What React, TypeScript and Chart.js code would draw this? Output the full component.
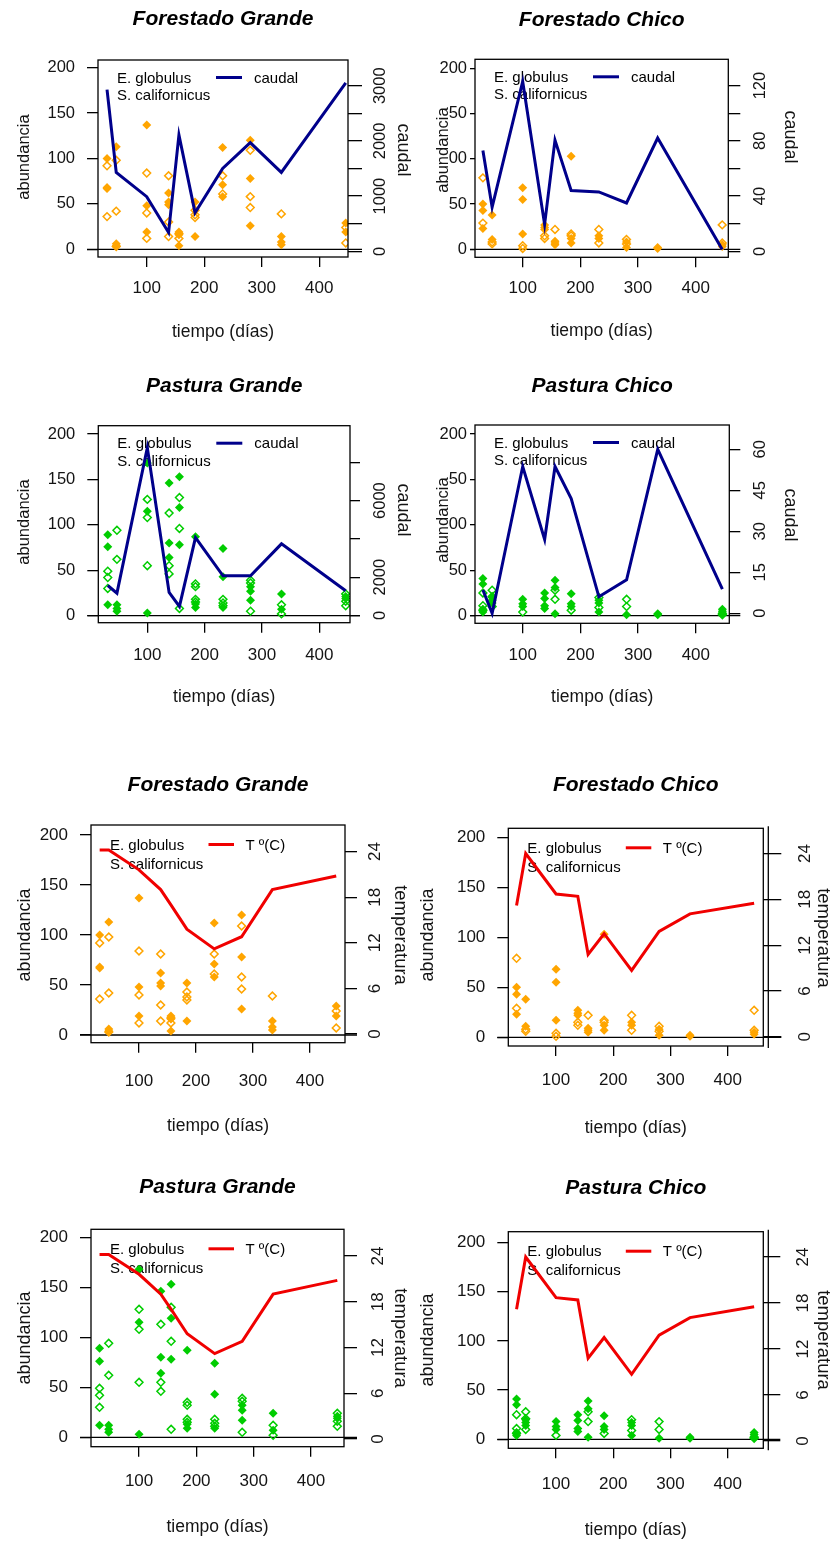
import React, { useEffect, useRef } from 'react';
import { Chart, registerables } from 'chart.js';

Chart.register(...registerables);

// ---------------- data ----------------
const dias = [31, 47, 100, 138, 156, 184, 232, 280, 334, 446];

const caudalForestadoGrande = [2930, 1430, 990, 340, 2110, 700, 1500, 1970, 1430, 3050];
const caudalForestadoChico = [73, 32, 123, 19.5, 80.5, 44, 43, 35, 82, 1.4];
const caudalPasturaGrande = [1565, 1165, 8765, 1200, 470, 4070, 2070, 2070, 3740, 1290];
const caudalPasturaChico = [8.5, 0, 53.7, 27, 53.7, 42, 6, 12.2, 60, 8.8];
const temperaturaGrande = [24.2, 24.2, 21.6, 19.0, 17.0, 13.8, 11.2, 12.8, 19.0, 20.8];
const temperaturaChico = [17.2, 24.0, 18.7, 18.4, 10.8, 13.5, 8.7, 13.8, 16.1, 17.5];

// abundance per sampling date (several replicates per date)
const eGlobulusForestadoGrande = [[100, 67, 68], [113, 6, 4], [137, 48, 19], [62, 52, 49], [19, 16, 4], [52, 14], [112, 71, 58], [120, 78, 26], [14, 8, 5], [29, 19]];
const sCalifornicusForestadoGrande = [[92, 36], [98, 42, 3], [84, 40, 12], [81, 30, 14], [17, 12], [43, 38, 35], [81, 61], [109, 58, 46], [39], [24, 7]];

const eGlobulusForestadoChico = [[50, 43, 23], [38, 11], [68, 55, 17], [27, 24, 22], [9, 7, 5], [103, 12, 7], [15, 12], [8, 2], [2, 1], [5, 3]];
const sCalifornicusForestadoChico = [[79, 29], [6, 8], [4, 1], [15, 12], [22], [17, 15], [22, 7], [11, 6], [], [27, 7]];

const eGlobulusPasturaGrande = [[89, 76, 12], [12, 8, 5], [168, 115, 3], [146, 80, 64], [153, 119, 78], [87, 13, 9], [74, 43, 9], [32, 27, 17], [24, 7], [21, 19]];
const sCalifornicusPasturaGrande = [[49, 42, 30], [94, 62], [128, 108, 55], [113, 55, 46], [130, 96, 8], [35, 32, 18, 15], [18, 14, 11], [39, 36, 5], [12, 2], [24, 16, 11]];

const eGlobulusPasturaChico = [[41, 35, 7, 4], [20, 17, 14], [18, 13, 10], [25, 19, 11, 8], [39, 31, 2], [24, 13, 10], [17, 14, 4], [1], [2, 1], [7, 5, 3]];
const sCalifornicusPasturaChico = [[25, 11, 6], [28, 21, 10], [4], [], [28, 18], [6], [20, 9], [18, 10], [], [2, 1]];

// tick values / labels
const xTicks = [100, 200, 300, 400];
const abundTicks = [0, 50, 100, 150, 200];
const caudalFGTicks = [0, 500, 1000, 1500, 2000, 2500, 3000];
const caudalFGLabels = [0, 1000, 2000, 3000];
const caudalFCTicks = [0, 20, 40, 60, 80, 100, 120];
const caudalFCLabels = [0, 40, 80, 120];
const caudalPGTicks = [0, 2000, 4000, 6000, 8000];
const caudalPGLabels = [0, 2000, 6000];
const caudalPCTicks = [0, 15, 30, 45, 60];
const caudalPCLabels = [0, 15, 30, 45, 60];
const tempTicks = [0, 6, 12, 18, 24];
const tempLabels = [0, 6, 12, 18, 24];

// ---------------- styles ----------------
const FONT = '"Liberation Sans", Arial, Helvetica, sans-serif';
const ORANGE = '#FFA500';
const GREEN = '#00CD00';
const NAVY = '#00008B';
const RED = '#F00000';
const INK = '#141414';

const legCaudal = { tx: 19, y1: 18.5, y2: 36, l1: 118, l2: 144, ly: 17.5, lx: 156 };
const legTemp = { tx: 19, y1: 20.5, y2: 39.5, l1: 117.5, l2: 143, ly: 19.5, lx: 154.5 };

type Lay = {
  x: number; y: number; w: number; h: number;
  box: number[];
  titleY: number; xLabY: number; xTitleY: number;
  yTitleX: number; yTitleY: number; rTitleX: number; rTitleY: number; rLabX: number;
  xr: number[]; yl: number[]; yr: number[];
  lTick: number; lPad: number; rTick: number; rOff: number;
  labSize: number; yTitleSize: number; rTitleSize: number;
  cover?: number[];
};

type Spec = {
  title: string;
  globulus: number[][];
  californicus: number[][];
  color: string;
  env: number[];
  envColor: string;
  envLabel: string;
  rTitle: string;
  rTicks: number[];
  rLabels: number[];
  leg: typeof legCaudal;
  lay: Lay;
};

const panels: Spec[] = [
  {
    title: 'Forestado Grande', globulus: eGlobulusForestadoGrande, californicus: sCalifornicusForestadoGrande,
    color: ORANGE, env: caudalForestadoGrande, envColor: NAVY, envLabel: 'caudal', rTitle: 'caudal',
    rTicks: caudalFGTicks, rLabels: caudalFGLabels, leg: legCaudal,
    lay: { x: 0, y: 0, w: 415, h: 355, box: [98, 60, 348, 257], titleY: 19.5, xLabY: 288, xTitleY: 332,
      yTitleX: 24, yTitleY: 157, rTitleX: 403, rTitleY: 150, rLabX: 380,
      xr: [15.3, 449.9], yl: [-8.5, 208.5], yr: [-103, 3466], lTick: 11, lPad: 12, rTick: 14, rOff: 0,
      labSize: 16.5, yTitleSize: 16.5, rTitleSize: 18 },
  },
  {
    title: 'Forestado Chico', globulus: eGlobulusForestadoChico, californicus: sCalifornicusForestadoChico,
    color: ORANGE, env: caudalForestadoChico, envColor: NAVY, envLabel: 'caudal', rTitle: 'caudal',
    rTicks: caudalFCTicks, rLabels: caudalFCLabels, leg: legCaudal,
    lay: { x: 415, y: 0, w: 416, h: 355, box: [475, 59.3, 728.3, 257.3], titleY: 20, xLabY: 288, xTitleY: 331,
      yTitleX: 443, yTitleY: 150, rTitleX: 790, rTitleY: 137, rLabX: 760,
      xr: [17.3, 456.5], yl: [-8.8, 210], yr: [-4.3, 139], lTick: 5, lPad: 3, rTick: 12, rOff: 0,
      labSize: 16.5, yTitleSize: 16.5, rTitleSize: 18, cover: [435, 100, 14, 100] },
  },
  {
    title: 'Pastura Grande', globulus: eGlobulusPasturaGrande, californicus: sCalifornicusPasturaGrande,
    color: GREEN, env: caudalPasturaGrande, envColor: NAVY, envLabel: 'caudal', rTitle: 'caudal',
    rTicks: caudalPGTicks, rLabels: caudalPGLabels, leg: legCaudal,
    lay: { x: 0, y: 355, w: 415, h: 385, box: [98.3, 425.7, 350, 622.7], titleY: 386, xLabY: 655, xTitleY: 697,
      yTitleX: 24, yTitleY: 522, rTitleX: 403, rTitleY: 510, rLabX: 380,
      xr: [14.5, 453.5], yl: [-7.7, 209.1], yr: [-380, 9914], lTick: 11, lPad: 12, rTick: 10, rOff: 0,
      labSize: 16.5, yTitleSize: 16.5, rTitleSize: 18 },
  },
  {
    title: 'Pastura Chico', globulus: eGlobulusPasturaChico, californicus: sCalifornicusPasturaChico,
    color: GREEN, env: caudalPasturaChico, envColor: NAVY, envLabel: 'caudal', rTitle: 'caudal',
    rTicks: caudalPCTicks, rLabels: caudalPCLabels, leg: legCaudal,
    lay: { x: 415, y: 355, w: 416, h: 385, box: [475, 425, 729.3, 623.3], titleY: 386, xLabY: 655, xTitleY: 697,
      yTitleX: 443, yTitleY: 520, rTitleX: 790, rTitleY: 515, rLabX: 760,
      xr: [17.3, 458], yl: [-8.4, 209.9], yr: [-3.7, 68.9], lTick: 5, lPad: 3, rTick: 11, rOff: 0,
      labSize: 16.5, yTitleSize: 16.5, rTitleSize: 18, cover: [435, 470, 14, 100] },
  },
  {
    title: 'Forestado Grande', globulus: eGlobulusForestadoGrande, californicus: sCalifornicusForestadoGrande,
    color: ORANGE, env: temperaturaGrande, envColor: RED, envLabel: 'T º(C)', rTitle: 'temperatura',
    rTicks: tempTicks, rLabels: tempLabels, leg: legTemp,
    lay: { x: 0, y: 740, w: 415, h: 405, box: [91, 825, 345, 1042.7], titleY: 785, xLabY: 1081, xTitleY: 1126,
      yTitleX: 25, yTitleY: 935, rTitleX: 400, rTitleY: 935, rLabX: 375,
      xr: [15.8, 461.4], yl: [-7.7, 210], yr: [-1.14, 27.5], lTick: 11, lPad: 12, rTick: 12, rOff: 0,
      labSize: 17, yTitleSize: 18, rTitleSize: 18.5 },
  },
  {
    title: 'Forestado Chico', globulus: eGlobulusForestadoChico, californicus: sCalifornicusForestadoChico,
    color: ORANGE, env: temperaturaChico, envColor: RED, envLabel: 'T º(C)', rTitle: 'temperatura',
    rTicks: tempTicks, rLabels: tempLabels, leg: legTemp,
    lay: { x: 415, y: 740, w: 416, h: 405, box: [508.3, 828.3, 763.3, 1046], titleY: 785, xLabY: 1080, xTitleY: 1128,
      yTitleX: 428.3, yTitleY: 935, rTitleX: 823, rTitleY: 938, rLabX: 805,
      xr: [16.6, 462], yl: [-8.7, 209], yr: [-1.2, 27.3], lTick: 11, lPad: 12, rTick: 18, rOff: 5,
      labSize: 17, yTitleSize: 18, rTitleSize: 18.5 },
  },
  {
    title: 'Pastura Grande', globulus: eGlobulusPasturaGrande, californicus: sCalifornicusPasturaGrande,
    color: GREEN, env: temperaturaGrande, envColor: RED, envLabel: 'T º(C)', rTitle: 'temperatura',
    rTicks: tempTicks, rLabels: tempLabels, leg: legTemp,
    lay: { x: 0, y: 1145, w: 415, h: 397, box: [91, 1229.3, 344, 1446.7], titleY: 1187, xLabY: 1481.7, xTitleY: 1526.7,
      yTitleX: 25, yTitleY: 1338, rTitleX: 400, rTitleY: 1338, rLabX: 378,
      xr: [16.1, 457.7], yl: [-9.4, 208], yr: [-1.0, 27.5], lTick: 11, lPad: 12, rTick: 13, rOff: 0,
      labSize: 17, yTitleSize: 18, rTitleSize: 18.5 },
  },
  {
    title: 'Pastura Chico', globulus: eGlobulusPasturaChico, californicus: sCalifornicusPasturaChico,
    color: GREEN, env: temperaturaChico, envColor: RED, envLabel: 'T º(C)', rTitle: 'temperatura',
    rTicks: tempTicks, rLabels: tempLabels, leg: legTemp,
    lay: { x: 415, y: 1145, w: 416, h: 397, box: [508.3, 1231.7, 763.3, 1448.3], titleY: 1188, xLabY: 1484, xTitleY: 1530,
      yTitleX: 428, yTitleY: 1340, rTitleX: 823, rTitleY: 1340, rLabX: 803,
      xr: [16.6, 462], yl: [-9.1, 210.8], yr: [-0.95, 27.3], lTick: 11, lPad: 12, rTick: 17, rOff: 5,
      labSize: 17, yTitleSize: 18, rTitleSize: 18.5 },
  },
];

function makeDecor(spec: Spec) {
  const L = spec.lay;
  return {
    id: 'decor',
    beforeDatasetsDraw(chart: any) {
      const ctx = chart.ctx;
      const ca = chart.chartArea;
      const ys = chart.scales.y;
      const y0 = ys.getPixelForValue(0);
      ctx.save();
      ctx.strokeStyle = '#000';
      ctx.lineWidth = 1.3;
      ctx.beginPath();
      ctx.moveTo(ca.left - L.lTick, y0);
      ctx.lineTo(ca.right + L.rTick, y0);
      ctx.stroke();
      // legend
      const lg = spec.leg;
      ctx.font = `15px ${FONT}`;
      ctx.fillStyle = '#000';
      ctx.textBaseline = 'middle';
      ctx.textAlign = 'left';
      ctx.fillText('E. globulus', ca.left + lg.tx, ca.top + lg.y1);
      ctx.fillText('S. californicus', ca.left + lg.tx, ca.top + lg.y2);
      ctx.fillText(spec.envLabel, ca.left + lg.lx, ca.top + lg.y1);
      ctx.strokeStyle = spec.envColor;
      ctx.lineWidth = 3;
      ctx.beginPath();
      ctx.moveTo(ca.left + lg.l1, ca.top + lg.ly);
      ctx.lineTo(ca.left + lg.l2, ca.top + lg.ly);
      ctx.stroke();
      ctx.restore();
    },
    afterDraw(chart: any) {
      const ctx = chart.ctx;
      const ca = chart.chartArea;
      ctx.save();
      ctx.strokeStyle = '#000';
      ctx.lineWidth = 1.3;
      ctx.strokeRect(ca.left, ca.top, ca.right - ca.left, ca.bottom - ca.top);
      if (L.rOff) {
        ctx.beginPath();
        ctx.moveTo(ca.right + L.rOff, ca.top - 2);
        ctx.lineTo(ca.right + L.rOff, ca.bottom + 2);
        ctx.stroke();
      }
      // right axis labels (rotated, parallel to axis)
      const yr = chart.scales.y2;
      ctx.fillStyle = INK;
      ctx.font = `${L.labSize}px ${FONT}`;
      ctx.textAlign = 'center';
      ctx.textBaseline = 'middle';
      for (const v of spec.rLabels) {
        const py = yr.getPixelForValue(v);
        ctx.save();
        ctx.translate(L.rLabX - L.x, py);
        ctx.rotate(-Math.PI / 2);
        ctx.fillText(String(v), 0, 0);
        ctx.restore();
      }
      // left title
      if (L.cover) {
        ctx.fillStyle = '#fff';
        ctx.fillRect(L.cover[0] - L.x, L.cover[1] - L.y, L.cover[2], L.cover[3]);
      }
      ctx.fillStyle = INK;
      ctx.font = `${L.yTitleSize}px ${FONT}`;
      ctx.save();
      ctx.translate(L.yTitleX - L.x, L.yTitleY - L.y);
      ctx.rotate(-Math.PI / 2);
      ctx.fillText('abundancia', 0, 0);
      ctx.restore();
      // right title
      ctx.font = `${L.rTitleSize}px ${FONT}`;
      ctx.save();
      ctx.translate(L.rTitleX - L.x, L.rTitleY - L.y);
      ctx.rotate(Math.PI / 2);
      ctx.fillText(spec.rTitle, 0, 0);
      ctx.restore();
      ctx.restore();
    },
  };
}

function buildChart(canvas: HTMLCanvasElement, spec: Spec) {
  const L = spec.lay;
  const bt = L.box[1] - L.y;
  const tLH = 21 * 1.2;
  const tPadTop = L.titleY - L.y - tLH / 2;
  const tPadBottom = bt - tPadTop - tLH;
  const xLH = 17 * 1.2;
  const xPad = L.xLabY - L.box[3] - 10 - xLH / 2;
  const xtLH = 17.5 * 1.2;
  const xtPadBottom = L.y + L.h - L.xTitleY - xtLH / 2;

  const ptsG = spec.globulus.flatMap((vals, i) => vals.map((v) => ({ x: dias[i], y: v })));
  const ptsC = spec.californicus.flatMap((vals, i) => vals.map((v) => ({ x: dias[i], y: v })));
  const envPts = spec.env.map((v, i) => ({ x: dias[i], y: v }));

  const tickGrid = (len: number) => ({
    display: true,
    drawOnChartArea: false,
    drawTicks: true,
    tickLength: len,
    tickColor: '#000',
    tickWidth: 1.3,
    color: '#000',
    lineWidth: 1.3,
  });

  return new Chart(canvas, {
    type: 'scatter',
    data: {
      datasets: [
        {
          type: 'line',
          label: spec.envLabel,
          data: envPts,
          yAxisID: 'y2',
          borderColor: spec.envColor,
          backgroundColor: spec.envColor,
          borderWidth: 3,
          pointRadius: 0,
          fill: false,
          tension: 0,
          order: 0,
        } as any,
        {
          label: 'E. globulus',
          data: ptsG,
          yAxisID: 'y',
          pointStyle: 'rectRot',
          pointRadius: 4.5,
          backgroundColor: spec.color,
          borderColor: spec.color,
          borderWidth: 0,
          order: 2,
        },
        {
          label: 'S. californicus',
          data: ptsC,
          yAxisID: 'y',
          pointStyle: 'rectRot',
          pointRadius: 3.9,
          backgroundColor: 'rgba(0,0,0,0)',
          borderColor: spec.color,
          borderWidth: 1.5,
          order: 1,
        },
      ],
    },
    options: {
      responsive: false,
      maintainAspectRatio: false,
      animation: false,
      events: [],
      layout: { padding: 0, autoPadding: false },
      plugins: {
        legend: { display: false },
        tooltip: { enabled: false },
        title: {
          display: true,
          text: spec.title,
          fullSize: false,
          color: '#000',
          font: { family: FONT, size: 21, weight: 'bold', style: 'italic', lineHeight: 1.2 },
          padding: { top: tPadTop, bottom: tPadBottom },
        },
      },
      scales: {
        x: {
          type: 'linear',
          position: 'bottom',
          min: L.xr[0],
          max: L.xr[1],
          afterBuildTicks: (s: any) => {
            s.ticks = xTicks.map((v) => ({ value: v }));
          },
          afterFit: (s: any) => {
            s.height = L.y + L.h - L.box[3];
          },
          grid: tickGrid(10),
          border: { display: false },
          ticks: {
            color: INK,
            font: { family: FONT, size: 17 },
            padding: xPad,
            maxRotation: 0,
            minRotation: 0,
            autoSkip: false,
          },
          title: {
            display: true,
            text: 'tiempo (días)',
            color: INK,
            font: { family: FONT, size: 17.5, lineHeight: 1.2 },
            padding: { top: 0, bottom: xtPadBottom },
          },
        },
        y: {
          type: 'linear',
          position: 'left',
          min: L.yl[0],
          max: L.yl[1],
          afterBuildTicks: (s: any) => {
            s.ticks = abundTicks.map((v) => ({ value: v }));
          },
          afterFit: (s: any) => {
            s.width = L.box[0] - L.x;
          },
          grid: tickGrid(L.lTick),
          border: { display: false },
          ticks: {
            color: INK,
            font: { family: FONT, size: L.labSize },
            padding: L.lPad,
          },
        },
        y2: {
          type: 'linear',
          position: 'right',
          min: L.yr[0],
          max: L.yr[1],
          afterBuildTicks: (s: any) => {
            s.ticks = spec.rTicks.map((v) => ({ value: v }));
          },
          afterFit: (s: any) => {
            s.width = L.x + L.w - L.box[2];
          },
          grid: tickGrid(L.rTick),
          border: { display: false },
          ticks: { display: false },
        },
      },
    } as any,
    plugins: [makeDecor(spec)],
  });
}

function Panel({ spec }: { spec: Spec }) {
  const ref = useRef<HTMLCanvasElement | null>(null);
  useEffect(() => {
    if (!ref.current) return;
    const chart = buildChart(ref.current, spec);
    return () => chart.destroy();
  }, [spec]);
  const L = spec.lay;
  return (
    <canvas
      ref={ref}
      width={L.w}
      height={L.h}
      style={{ position: 'absolute', left: L.x, top: L.y, width: L.w, height: L.h }}
    />
  );
}

export default function App() {
  return (
    <div
      style={{
        position: 'absolute',
        left: 0,
        top: 0,
        width: 831,
        height: 1542,
        background: '#fff',
        overflow: 'hidden',
      }}
    >
      {panels.map((p, i) => (
        <Panel key={i} spec={p} />
      ))}
    </div>
  );
}
